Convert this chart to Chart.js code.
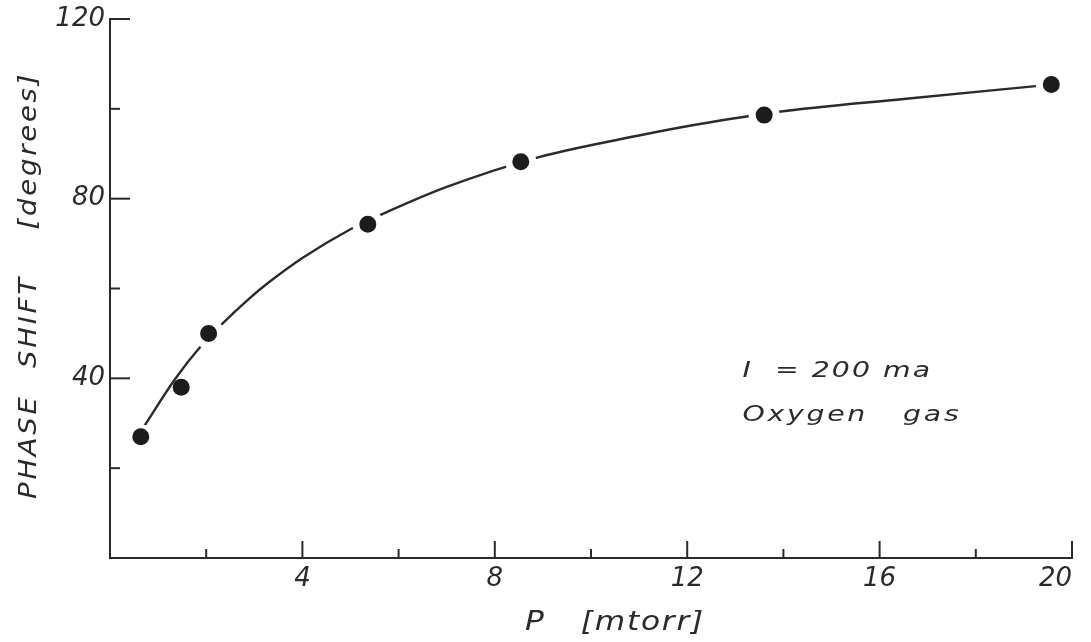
<!DOCTYPE html>
<html>
<head>
<meta charset="utf-8">
<script src="https://cdn.jsdelivr.net/npm/chart.js@4.4.1/dist/chart.umd.min.js"></script>
<style>
  html, body { margin: 0; padding: 0; background: #ffffff; }
  #wrap { width: 1091px; height: 642px; }
</style>
</head>
<body>
<div id="wrap"><canvas id="chart" width="1091" height="642"></canvas></div>
<script>
// Measured phase shift vs. gas pressure (I = 200 mA, oxygen)
const pressure   = [0.64, 1.48, 2.05, 5.36, 8.54, 13.6, 19.57];   // mtorr
const phaseShift = [27.0, 38.0, 50.0, 74.3, 88.2, 98.6, 105.4];   // degrees

// Hand-drawn smooth curve through the measurements
const curvePressure = [0.72, 1.35, 1.90, 2.31, 2.90, 3.27, 4.0, 5.0, 5.65, 7.0, 8.9, 10.97, 12.2, 13.87, 16.5, 19.57];
const curveShift    = [29.5, 39.8, 47.3, 51.9, 57.8, 61.1, 66.8, 73.2, 76.5, 82.6, 89.2, 94.0, 96.5, 99.3, 102.2, 105.4];

// Labelled tick values
const xLabelled = [4, 8, 12, 16, 20];
const yLabelled = [40, 80, 120];

const INK = '#2b2b2b';
const FONT = '"DejaVu Sans", "Liberation Sans", sans-serif';

const toPoints = (xs, ys) => xs.map((x, i) => ({ x, y: ys[i] }));

// Draw text widened horizontally (lettering-guide style), origin at (0,0) of current transform
function wideText(ctx, text, size, stretch, spacing, align) {
  ctx.save();
  ctx.font = 'italic ' + size + 'px ' + FONT;
  ctx.letterSpacing = spacing + 'px';
  ctx.textAlign = 'left';
  const w = (ctx.measureText(text).width - spacing) * stretch;
  const start = align === 'center' ? -w / 2 : 0;
  ctx.translate(start, 0);
  ctx.scale(stretch, 1);
  ctx.fillText(text, 0, 0);
  ctx.restore();
}

// Inward tick marks: long at labelled values, short in between
const tickMarks = {
  id: 'tickMarks',
  beforeDatasetsDraw(chart) {
    const { ctx, scales: { x, y } } = chart;
    ctx.save();
    ctx.strokeStyle = INK;
    ctx.lineWidth = 2;
    x.ticks.forEach(t => {
      if (t.value === x.min) return;
      const px = x.getPixelForValue(t.value);
      const len = xLabelled.includes(t.value) ? 17 : 9;
      ctx.beginPath();
      ctx.moveTo(px, x.top);
      ctx.lineTo(px, x.top - len);
      ctx.stroke();
    });
    y.ticks.forEach(t => {
      if (t.value === y.min) return;
      const py = y.getPixelForValue(t.value);
      const len = yLabelled.includes(t.value) ? 20 : 10;
      ctx.beginPath();
      ctx.moveTo(y.right, py);
      ctx.lineTo(y.right + len, py);
      ctx.stroke();
    });
    ctx.restore();
  }
};

// Axis titles and the run conditions
const lettering = {
  id: 'lettering',
  afterDraw(chart) {
    const { ctx, scales: { x, y } } = chart;
    ctx.save();
    ctx.fillStyle = INK;
    ctx.textBaseline = 'alphabetic';

    // y-axis title, reading upwards, one word at a time
    [['PHASE', 448], ['SHIFT', 323], ['[degrees]', 152]].forEach(([word, cy]) => {
      ctx.save();
      ctx.translate(36, cy);
      ctx.rotate(-Math.PI / 2);
      wideText(ctx, word, 25, 1.1, 2.5, 'center');
      ctx.restore();
    });

    // x-axis title
    ctx.save();
    ctx.translate(525, 630);
    wideText(ctx, 'P   [mtorr]', 26, 1.2, 1.5, 'left');
    ctx.restore();

    // run conditions
    const ax = x.getPixelForValue(13.15);
    ctx.save();
    ctx.translate(ax, 377);
    wideText(ctx, 'I  = 200 ma', 21, 1.35, 1.5, 'left');
    ctx.restore();
    ctx.save();
    ctx.translate(ax, 421);
    wideText(ctx, 'Oxygen   gas', 21, 1.35, 2, 'left');
    ctx.restore();

    ctx.restore();
  }
};

new Chart(document.getElementById('chart'), {
  type: 'scatter',
  data: {
    datasets: [
      {
        label: 'Measured',
        data: toPoints(pressure, phaseShift),
        showLine: false,
        backgroundColor: '#1c1c1c',
        borderColor: '#ffffff',
        pointRadius:      [10.5, 8.5, 12, 12, 12, 12, 12],
        pointBorderWidth: [4, 0, 7, 7, 7, 7, 7],
        pointHoverRadius: 0
      },
      {
        label: 'Curve',
        data: toPoints(curvePressure, curveShift),
        showLine: true,
        borderColor: INK,
        borderWidth: 2.4,
        pointRadius: 0,
        cubicInterpolationMode: 'monotone',
        fill: false
      }
    ]
  },
  options: {
    responsive: false,
    animation: false,
    devicePixelRatio: 1,
    layout: { padding: { top: 12, right: 15, left: 0, bottom: 0 } },
    plugins: { legend: { display: false }, tooltip: { enabled: false } },
    scales: {
      x: {
        type: 'linear',
        min: 0, max: 20,
        afterFit(scale) { scale.height = 84; scale.paddingLeft = 0; scale.paddingRight = 0; },
        border: { display: true, color: INK, width: 2 },
        grid: { display: true, drawOnChartArea: false, drawTicks: false, color: 'rgba(0,0,0,0)' },
        ticks: {
          stepSize: 2,
          autoSkip: false,
          maxRotation: 0,
          align: 'inner',
          padding: 6,
          color: INK,
          font: { family: FONT, size: 26, style: 'italic' },
          callback: v => xLabelled.includes(v) ? String(v) : ''
        }
      },
      y: {
        type: 'linear',
        min: 0, max: 120,
        afterFit(scale) { scale.width = 110; scale.paddingTop = 0; scale.paddingBottom = 0; },
        border: { display: true, color: INK, width: 2 },
        grid: { display: true, drawOnChartArea: false, drawTicks: false, color: 'rgba(0,0,0,0)' },
        ticks: {
          stepSize: 20,
          autoSkip: false,
          padding: 5,
          color: INK,
          font: { family: FONT, size: 26, style: 'italic' },
          callback: v => yLabelled.includes(v) ? String(v) : ''
        }
      }
    }
  },
  plugins: [tickMarks, lettering]
});
</script>
</body>
</html>
